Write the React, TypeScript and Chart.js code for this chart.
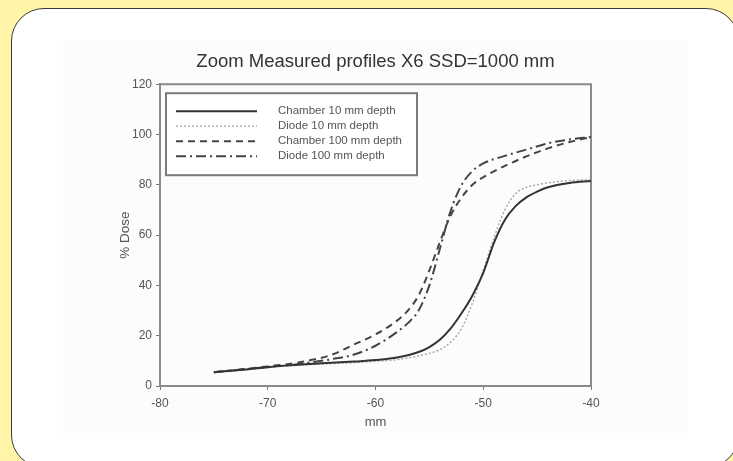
import React, { useEffect, useRef } from "react";
import { Chart, registerables } from "chart.js";

Chart.register(...registerables);

const chartTitle = "Zoom Measured profiles X6 SSD=1000 mm";
const xAxisTitle = "mm";
const yAxisTitle = "% Dose";

const seriesLabels = [
  "Chamber 10 mm depth",
  "Diode 10 mm depth",
  "Chamber 100 mm depth",
  "Diode 100 mm depth",
];

const xChamber10 = [-75, -72, -70, -68, -65, -62, -60, -58, -56, -55, -54, -53, -52, -51, -50, -49, -48, -47, -46, -45, -44, -42, -40];
const yChamber10 = [5.5, 6.6, 7.5, 8.2, 9.0, 9.7, 10.3, 11.3, 13.5, 15.5, 18.5, 23, 29, 36, 45, 57, 66, 71.5, 75, 77.3, 79, 80.7, 81.5];

const xDiode10 = [-75, -72, -70, -68, -65, -62, -60, -58, -56, -55, -54, -53, -52, -51, -50, -49, -48, -47, -46, -45, -44, -42, -40];
const yDiode10 = [5.5, 6.5, 7.3, 8.0, 8.7, 9.3, 9.8, 10.5, 12, 13, 14.5, 17.5, 23, 33, 46, 59, 70, 76.5, 79, 80, 80.8, 81.7, 82];

const xChamber100 = [-75, -72, -70, -68, -66, -64, -62, -60, -58, -57, -56, -55, -54, -53, -52, -51, -50, -48, -46, -44, -42, -40];
const yChamber100 = [5.5, 6.8, 7.8, 8.8, 10.3, 12.5, 16.5, 20.5, 26, 30, 36, 46, 57.5, 68, 75, 80, 83, 87.5, 91.3, 94.5, 97, 99];

const xDiode100 = [-75, -72, -70, -68, -66, -64, -62, -60, -58, -57, -56, -55, -54, -53, -52, -51, -50, -48, -46, -44, -42, -40];
const yDiode100 = [5.5, 6.7, 7.6, 8.3, 9.4, 10.7, 12.5, 16, 21.5, 25, 30, 40, 55, 70, 80, 85.5, 88.5, 91.5, 94, 96.5, 98, 99];

const xTicksMin = -80;
const xTicksMax = -40;
const xTickStep = 10;
const yTicksMin = 0;
const yTicksMax = 120;
const yTickStep = 20;

const FONT = "'Liberation Sans', Arial, sans-serif";

const zip = (xs: number[], ys: number[]) => xs.map((x, i) => ({ x, y: ys[i] }));

const framePlugin = {
  id: "frame",
  beforeDatasetsDraw(chart: any) {
    const { ctx, chartArea } = chart;
    ctx.save();
    ctx.strokeStyle = "#8a8a8a";
    ctx.lineWidth = 2;
    ctx.beginPath();
    ctx.moveTo(chartArea.left, chartArea.top);
    ctx.lineTo(chartArea.right, chartArea.top);
    ctx.lineTo(chartArea.right, chartArea.bottom);
    ctx.stroke();
    ctx.restore();
  },
};

const boxLegendPlugin = {
  id: "boxLegend",
  afterDraw(chart: any) {
    const { ctx, chartArea } = chart;
    const left = chartArea.left + 6;
    const top = chartArea.top + 9;
    const w = 251;
    const h = 82;
    ctx.save();
    ctx.fillStyle = "#ffffff";
    ctx.fillRect(left, top, w, h);
    ctx.strokeStyle = "#7a7a7a";
    ctx.lineWidth = 2;
    ctx.strokeRect(left, top, w, h);
    chart.data.datasets.forEach((ds: any, i: number) => {
      const y = top + 18 + i * 15;
      ctx.beginPath();
      ctx.setLineDash(ds.borderDash || []);
      ctx.strokeStyle = ds.borderColor;
      ctx.lineWidth = ds.borderWidth;
      ctx.moveTo(left + 10, y);
      ctx.lineTo(left + 91, y);
      ctx.stroke();
      ctx.setLineDash([]);
      ctx.fillStyle = "#555";
      ctx.font = "11.5px " + FONT;
      ctx.textBaseline = "middle";
      ctx.textAlign = "left";
      ctx.fillText(ds.label, left + 112, y);
    });
    ctx.restore();
  },
};

export default function App() {
  const ref = useRef<HTMLCanvasElement | null>(null);

  useEffect(() => {
    if (!ref.current) return;
    const chart = new Chart(ref.current, {
      type: "line",
      data: {
        datasets: [
          {
            label: seriesLabels[0],
            data: zip(xChamber10, yChamber10),
            borderColor: "#333333",
            borderWidth: 2,
            borderDash: [],
          },
          {
            label: seriesLabels[1],
            data: zip(xDiode10, yDiode10),
            borderColor: "#a0a0a0",
            borderWidth: 1.3,
            borderDash: [2, 2],
          },
          {
            label: seriesLabels[2],
            data: zip(xChamber100, yChamber100),
            borderColor: "#444444",
            borderWidth: 2,
            borderDash: [7, 5],
          },
          {
            label: seriesLabels[3],
            data: zip(xDiode100, yDiode100),
            borderColor: "#444444",
            borderWidth: 2,
            borderDash: [10, 4, 2, 4],
          },
        ],
      },
      options: {
        responsive: false,
        animation: false,
        parsing: false as any,
        elements: {
          point: { radius: 0 },
          line: { cubicInterpolationMode: "monotone", fill: false },
        },
        layout: { padding: { left: 100, right: 142, top: 0, bottom: 0 } },
        plugins: {
          legend: { display: false },
          tooltip: { enabled: false },
          title: {
            display: true,
            fullSize: false,
            text: chartTitle,
            color: "#333",
            font: { family: FONT, size: 18.5, weight: "normal" },
            padding: { top: 51, bottom: 11 },
          },
        },
        scales: {
          x: {
            type: "linear",
            min: xTicksMin,
            max: xTicksMax,
            afterFit: (s: any) => {
              s.height = 75;
            },
            ticks: {
              stepSize: xTickStep,
              color: "#555",
              padding: 6,
              font: { family: FONT, size: 12 },
            },
            grid: {
              drawOnChartArea: false,
              drawTicks: true,
              tickLength: 4,
              tickColor: "#777",
            },
            border: { display: true, color: "#8a8a8a", width: 2 },
            title: {
              display: true,
              text: xAxisTitle,
              color: "#555",
              font: { family: FONT, size: 13 },
              padding: { top: 0, bottom: 31 },
            },
          },
          y: {
            type: "linear",
            min: yTicksMin,
            max: yTicksMax,
            afterFit: (s: any) => {
              s.width = 60;
            },
            ticks: {
              stepSize: yTickStep,
              color: "#555",
              padding: 4,
              font: { family: FONT, size: 12 },
            },
            grid: {
              drawOnChartArea: false,
              drawTicks: true,
              tickLength: 4,
              tickColor: "#777",
            },
            border: { display: true, color: "#8a8a8a", width: 2 },
            title: {
              display: true,
              text: yAxisTitle,
              color: "#555",
              font: { family: FONT, size: 13.5 },
              padding: { top: 17, bottom: 0 },
            },
          },
        },
      },
      plugins: [framePlugin, boxLegendPlugin],
    });
    return () => chart.destroy();
  }, []);

  return (
    <div
      style={{
        position: "fixed",
        left: 0,
        top: 0,
        width: 733,
        height: 461,
        overflow: "hidden",
        background: "#fff4a8",
      }}
    >
      <div
        style={{
          position: "absolute",
          left: 11,
          top: 8,
          width: 728,
          height: 460,
          boxSizing: "border-box",
          border: "1.5px solid #3a3a3a",
          borderRadius: 33,
          background: "#ffffff",
        }}
      />
      <div
        style={{
          position: "absolute",
          left: 63,
          top: 40,
          width: 625,
          height: 393,
          background: "#fcfcfc",
        }}
      />
      <canvas
        ref={ref}
        width={733}
        height={461}
        style={{ position: "absolute", left: 0, top: 0, width: 733, height: 461 }}
      />
    </div>
  );
}
